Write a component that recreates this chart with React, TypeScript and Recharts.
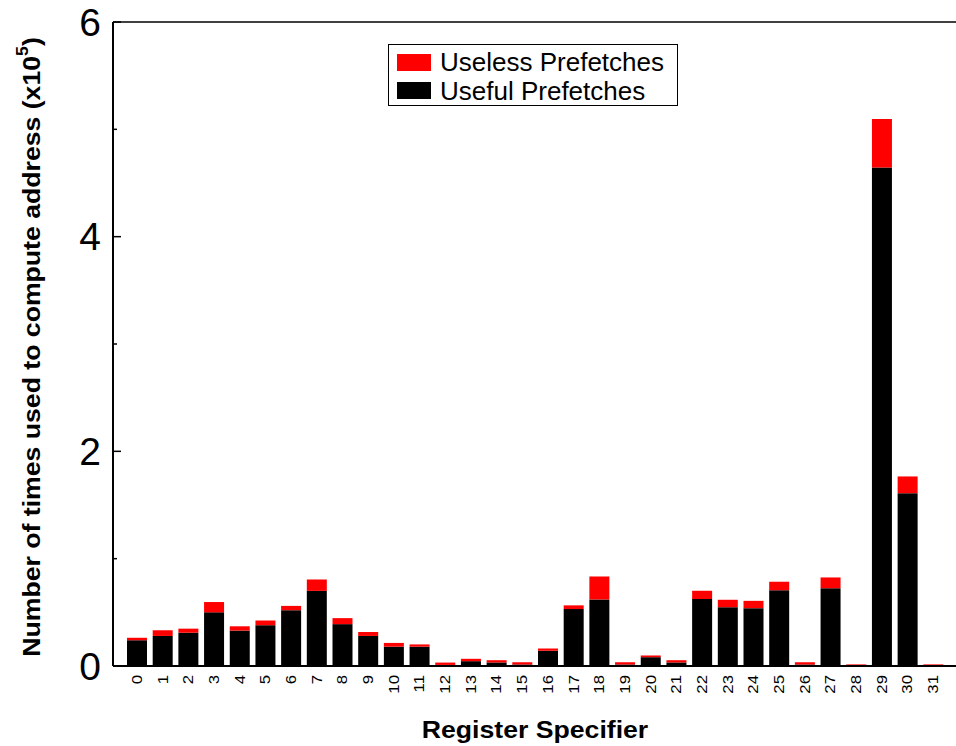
import { BarChart, Bar, XAxis, YAxis, ReferenceLine } from 'recharts';

// Register specifiers 0..31
const registers = [
    '0', '1', '2', '3', '4', '5', '6', '7', '8', '9', '10', '11', '12', '13', '14', '15',
    '16', '17', '18', '19', '20', '21', '22', '23', '24', '25', '26', '27', '28', '29', '30', '31',
];

// values in units of 10^5
const usefulPrefetches = [
    0.24, 0.28, 0.31, 0.50, 0.33, 0.38, 0.52, 0.70, 0.39, 0.28, 0.18, 0.18, 0.01, 0.045, 0.033, 0.014,
    0.142, 0.53, 0.62, 0.014, 0.082, 0.033, 0.624, 0.548, 0.539, 0.706, 0.014, 0.725, 0, 4.645, 1.61, 0,
];
const uselessPrefetches = [
    0.023, 0.053, 0.038, 0.096, 0.04, 0.044, 0.04, 0.106, 0.056, 0.037, 0.035, 0.021, 0.022, 0.022, 0.021, 0.021,
    0.021, 0.035, 0.214, 0.021, 0.016, 0.021, 0.077, 0.069, 0.068, 0.079, 0.021, 0.1, 0.015, 0.451, 0.156, 0.015,
];

const yTicks = [0, 1, 2, 3, 4, 5, 6];

const legendItems = [
    { label: 'Useless Prefetches', color: '#ff0000' },
    { label: 'Useful Prefetches', color: '#000000' },
];

const FONT = '"Liberation Sans", Arial, sans-serif';

const data = registers.map((reg, i) => ({
    reg,
    useful: usefulPrefetches[i],
    useless: uselessPrefetches[i],
}));

function LeftTick({ x, y, payload }: any) {
    const major = payload.value % 2 === 0;
    return (
        <g>
            <line x1={x} x2={x + (major ? 8 : 4)} y1={y} y2={y} stroke="#000" strokeWidth={1.5} />
            {major && (
                <text x={x - 12} y={y} textAnchor="end" dominantBaseline="central"
                    fontSize={39} fontFamily={FONT} fill="#000">
                    {payload.value}
                </text>
            )}
        </g>
    );
}

function RightTick({ x, y, payload }: any) {
    const major = payload.value % 2 === 0;
    if (payload.value === 0 || payload.value === 6) return null;
    return <line x1={x - (major ? 8 : 4)} x2={x} y1={y} y2={y} stroke="#000" strokeWidth={1.5} />;
}

function RegTick({ x, y, payload }: any) {
    return (
        <text transform={`translate(${x}, ${y}) rotate(-90) scale(1.2, 1)`}
            textAnchor="end" dominantBaseline="central" fontSize={14} fontFamily={FONT} fill="#000">
            {payload.value}
        </text>
    );
}

function LegendBox() {
    return (
        <div style={{
            position: 'absolute', left: 388, top: 44,
            border: '1.5px solid #000', background: '#fff', boxSizing: 'border-box',
            width: 290, height: 62, padding: '3px 0 0 8px', fontFamily: FONT,
        }}>
            {legendItems.map((it) => (
                <div key={it.label} style={{ display: 'flex', alignItems: 'center', height: 28.5 }}>
                    <span style={{ width: 34, height: 17, background: it.color, display: 'inline-block' }} />
                    <span style={{ marginLeft: 9, fontSize: 26, color: '#000', lineHeight: '28px' }}>{it.label}</span>
                </div>
            ))}
        </div>
    );
}

function YTitle() {
    return (
        <text transform="translate(31, 347) rotate(-90) scale(1.11, 1)" textAnchor="middle" dominantBaseline="central"
            fontSize={24} fontWeight="bold" fontFamily={FONT} fill="#000">
            Number of times used to compute address (x10
            <tspan dy={-9} fontSize={16}>5</tspan>
            <tspan dy={9}>)</tspan>
        </text>
    );
}

function XTitle({ viewBox }: any) {
    const cx = viewBox.x + viewBox.width / 2;
    return (
        <text transform={`translate(${cx}, 729) scale(1.11, 1)`} textAnchor="middle" dominantBaseline="central"
            fontSize={24} fontWeight="bold" fontFamily={FONT} fill="#000">
            Register Specifier
        </text>
    );
}

export default function App() {
    return (
        <div style={{ position: 'absolute', left: 0, top: 0, width: 956, height: 746, overflow: 'hidden', background: '#fff' }}>
            <BarChart width={960} height={746} data={data}
                margin={{ top: 22, right: 3, bottom: 0, left: 13 }} barSize={20}>
                <XAxis dataKey="reg" interval={0} tickLine={false} tickSize={0} tickMargin={9}
                    height={80} padding={{ left: 11, right: 11 }}
                    axisLine={{ stroke: '#000', strokeWidth: 2 }} tick={<RegTick />}
                    label={{ content: (p: any) => <XTitle {...p} /> }} />
                <YAxis yAxisId="left" type="number" domain={[0, 6]} ticks={yTicks} interval={0}
                    width={100} tickLine={false} tickSize={0} tickMargin={0}
                    axisLine={{ stroke: '#000', strokeWidth: 2 }} tick={<LeftTick />}
                    label={{ content: () => <YTitle /> }} />
                <YAxis yAxisId="right" orientation="right" type="number" domain={[0, 6]} ticks={yTicks}
                    interval={0} width={0} tickLine={false} tickSize={0} tickMargin={0}
                    axisLine={false} tick={<RightTick />} />
                <ReferenceLine yAxisId="left" y={6} stroke="#000" strokeWidth={1.5} />
                <Bar yAxisId="left" dataKey="useful" name="Useful Prefetches" stackId="a"
                    fill="#000000" isAnimationActive={false} />
                <Bar yAxisId="left" dataKey="useless" name="Useless Prefetches" stackId="a"
                    fill="#ff0000" isAnimationActive={false} />
            </BarChart>
            <LegendBox />
        </div>
    );
}
